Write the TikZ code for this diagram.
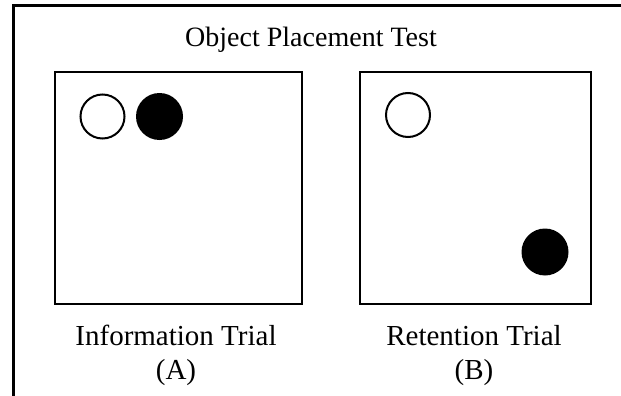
\documentclass[tikz,border=0pt]{standalone}
\usepackage{fontspec}
\setmainfont{Liberation Serif}
\begin{document}
\begin{tikzpicture}[x=1pt,y=-1pt,
  frameline/.style={line width=3pt},
  arena/.style={draw,line width=1.4pt},
  openobj/.style={circle,draw,line width=2pt,minimum size=44pt,inner sep=0pt},
  fullobj/.style={circle,fill=black,minimum size=47pt,inner sep=0pt},
  lbl/.style={font=\fontsize{29}{34}\selectfont,align=center,inner sep=0pt}]
\useasboundingbox (0,0) rectangle (621,396);
\coordinate (tl) at (13,5.5);
\coordinate (tr) at (621,5.5);
\coordinate (bl) at (13,396);
\draw[frameline] (bl) -- (tl) -- (tr);
\node[lbl,font=\fontsize{28}{34}\selectfont,anchor=base] (title) at (311,47) {Object Placement Test};
\node[arena,minimum width=247pt,minimum height=232pt,inner sep=0pt] (boxA) at (178.5,188) {};
\node[arena,minimum width=231pt,minimum height=232pt,inner sep=0pt] (boxB) at (475.5,188) {};
\node[openobj] (a1) at (102.5,116.5) {};
\node[fullobj] (a2) at (159.5,116.5) {};
\node[openobj] (b1) at (408,115) {};
\node[fullobj] (b2) at (545,252) {};
\node[lbl,anchor=base] (labA) at (176,379) {Information Trial\\(A)};
\node[lbl,anchor=base] (labB) at (474,379) {Retention Trial\\(B)};
\end{tikzpicture}
\end{document}
